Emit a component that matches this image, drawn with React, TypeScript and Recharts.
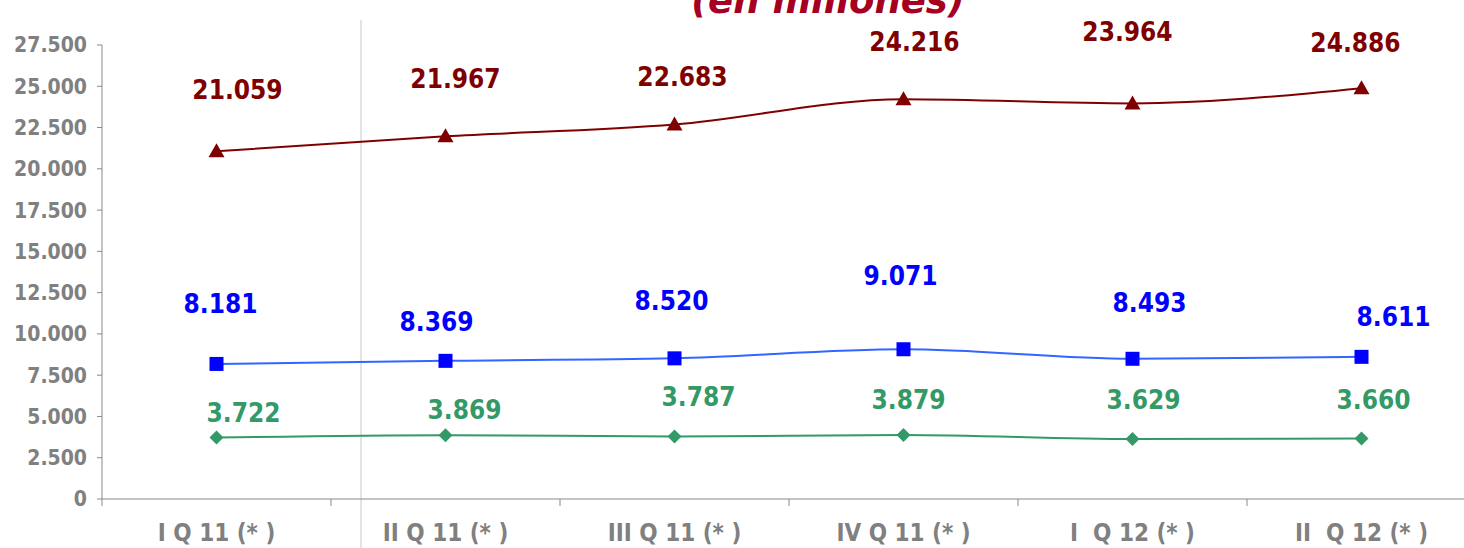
import React from 'react';
import { LineChart, Line, XAxis, YAxis, LabelList } from 'recharts';

const QUARTERS = ['I Q 11 (* )', 'II Q 11 (* )', 'III Q 11 (* )', 'IV Q 11 (* )', 'I  Q 12 (* )', 'II  Q 12 (* )'];
const RED_VALUES = [21059, 21967, 22683, 24216, 23964, 24886];
const BLUE_VALUES = [8181, 8369, 8520, 9071, 8493, 8611];
const GREEN_VALUES = [3722, 3869, 3787, 3879, 3629, 3660];
const Y_TICKS = [0, 2500, 5000, 7500, 10000, 12500, 15000, 17500, 20000, 22500, 25000, 27500];

// label offsets (dx, dy) from each point, as placed in the original
const RED_OFFSETS = [[21, -61], [10, -57], [8, -48], [11, -57], [-5, -71], [-6, -45]];
const BLUE_OFFSETS = [[4, -60], [-9, -39], [-3, -57], [-3, -73], [17, -56], [32, -40]];
const GREEN_OFFSETS = [[27, -25], [19, -25], [24, -39], [5, -35], [11, -39], [12, -39]];

const data = QUARTERS.map((quarter, i) => ({
  quarter,
  red: RED_VALUES[i],
  blue: BLUE_VALUES[i],
  green: GREEN_VALUES[i],
}));

const FONT = '"DejaVu Sans Condensed", "DejaVu Sans", sans-serif';
const GREY = '#898989';

const fmt = (v: number) => String(v).replace(/\B(?=(\d{3})+(?!\d))/g, '.');

const makeLabel = (offsets: number[][], color: string) => (p: any) => {
  const off = offsets[p.index] || [0, -30];
  return (
    <text
      key={`l-${p.index}`}
      x={p.x + off[0]}
      y={p.y + off[1]}
      textAnchor="middle"
      dominantBaseline="central"
      fill={color}
      fontFamily={FONT}
      fontWeight="bold"
      fontSize={26}
    >
      {fmt(p.value)}
    </text>
  );
};

const triangleDot = (p: any) => (
  <path key={`t-${p.index}`} d={`M${p.cx},${p.cy - 8} L${p.cx + 8},${p.cy + 6} L${p.cx - 8},${p.cy + 6} Z`} fill="#800000" />
);
const squareDot = (p: any) => (
  <rect key={`s-${p.index}`} x={p.cx - 7} y={p.cy - 7} width={14} height={14} fill="#0000FF" />
);
const diamondDot = (p: any) => (
  <path key={`d-${p.index}`} d={`M${p.cx},${p.cy - 7} L${p.cx + 7},${p.cy} L${p.cx},${p.cy + 7} L${p.cx - 7},${p.cy} Z`} fill="#339966" />
);

// category label plus a tick mark on the left edge of its band
const CatTick = (p: any) => {
  const half = p.payload.offset || 0;
  const edge = p.payload.coordinate - half;
  return (
    <g>
      <line x1={edge} y1={p.y} x2={edge} y2={p.y + 7} stroke={GREY} strokeWidth={1} />
      <text
        x={p.x}
        y={p.y + 42}
        textAnchor="middle"
        fill="#808080"
        fontFamily={FONT}
        fontWeight="bold"
        fontSize={24}
        style={{ whiteSpace: 'pre' }}
      >
        {p.payload.value}
      </text>
    </g>
  );
};

export default function App() {
  return (
    <div style={{ position: 'fixed', left: 0, top: 0, width: 1464, height: 548, overflow: 'hidden', background: '#fff' }}>
      <svg width={1464} height={548} style={{ position: 'absolute', left: 0, top: 0 }}>
        <line x1={361} y1={20} x2={361} y2={548} stroke="#c8c8c8" strokeWidth={1} />
        <text x={828} y={13} textAnchor="middle" fill="#A50021" fontFamily='"DejaVu Sans", sans-serif' fontWeight="bold" fontStyle="italic" fontSize={37}>
          (en millones)
        </text>
      </svg>
      <div style={{ position: 'absolute', left: 0, top: 0 }}>
        <LineChart width={1480} height={548} data={data} margin={{ top: 45, right: 4, left: 0, bottom: 0 }}>
          <XAxis
            dataKey="quarter"
            scale="band"
            stroke={GREY}
            tickLine={false}
            tickSize={0}
            tickMargin={0}
            tick={CatTick}
            height={49}
            interval={0}
          />
          <YAxis
            domain={[0, 27500]}
            ticks={Y_TICKS}
            width={102}
            tickSize={5}
            tickMargin={10}
            stroke={GREY}
            tickFormatter={fmt}
            tick={{ fill: '#808080', fontFamily: FONT, fontWeight: 'bold', fontSize: 21 }}
            interval={0}
          />
          <Line type="monotone" dataKey="red" stroke="#800000" strokeWidth={2} dot={triangleDot} isAnimationActive={false}>
            <LabelList dataKey="red" content={makeLabel(RED_OFFSETS, '#7F0000')} />
          </Line>
          <Line type="monotone" dataKey="blue" stroke="#3366FF" strokeWidth={2} dot={squareDot} isAnimationActive={false}>
            <LabelList dataKey="blue" content={makeLabel(BLUE_OFFSETS, '#0000FF')} />
          </Line>
          <Line type="monotone" dataKey="green" stroke="#339966" strokeWidth={2} dot={diamondDot} isAnimationActive={false}>
            <LabelList dataKey="green" content={makeLabel(GREEN_OFFSETS, '#339966')} />
          </Line>
        </LineChart>
      </div>
    </div>
  );
}
